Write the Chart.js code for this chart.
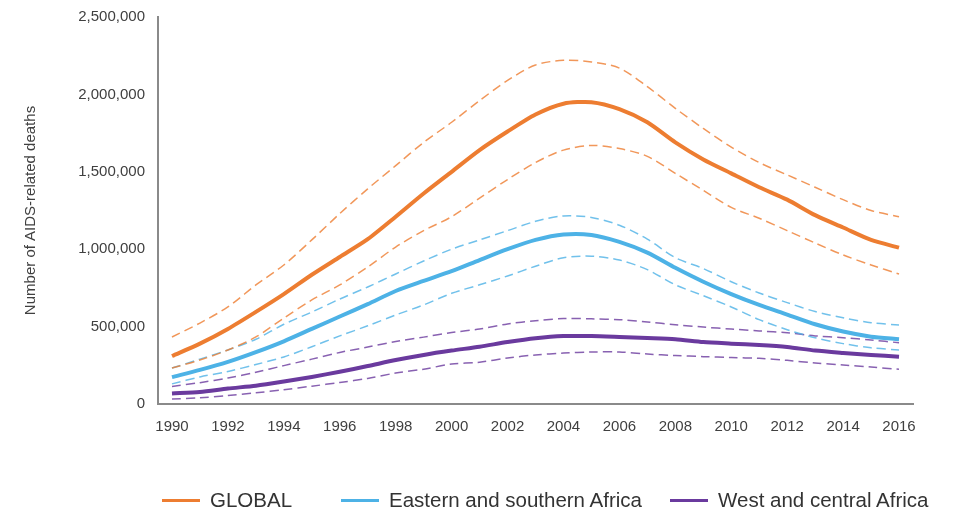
<!DOCTYPE html>
<html>
<head>
<meta charset="utf-8">
<script src="https://cdn.jsdelivr.net/npm/chart.js@4"></script>
<style>
  html, body { margin: 0; padding: 0; background: #fff; }
  #wrap { position: relative; width: 959px; height: 512px; font-family: "Liberation Sans", Arial, sans-serif; }
  #legend { position: absolute; left: 0; top: 488px; width: 959px; height: 24px; font-size: 20.5px; color: #333; }
  .item { position: absolute; top: 0; display: flex; align-items: center; white-space: nowrap; }
  .swatch { width: 38px; height: 3px; margin-right: 10px; }
</style>
</head>
<body>
<div id="wrap">
  <canvas id="deathsChart" width="959" height="512"></canvas>
  <div id="legend"></div>
</div>
<script>
// AIDS-related deaths 1990-2016, central estimate + upper/lower bounds
const years = ['1990', '1991', '1992', '1993', '1994', '1995', '1996', '1997', '1998', '1999', '2000', '2001', '2002', '2003',
    '2004', '2005', '2006', '2007', '2008', '2009', '2010', '2011', '2012', '2013', '2014', '2015', '2016'];

const globalMid = [310000, 390000, 485000, 595000, 710000, 835000, 950000, 1065000, 1210000, 1360000, 1500000, 1640000, 1760000, 1870000,
    1940000, 1950000, 1905000, 1820000, 1690000, 1580000, 1490000, 1400000, 1320000, 1220000, 1140000, 1060000, 1010000];
const globalUp = [433000, 523000, 627000, 769000, 898000, 1060000, 1230000, 1390000, 1540000, 1690000, 1820000, 1960000, 2090000, 2190000,
    2220000, 2210000, 2170000, 2050000, 1910000, 1780000, 1660000, 1560000, 1480000, 1400000, 1320000, 1250000, 1210000];
const globalLow = [232000, 284000, 349000, 433000, 555000, 672000, 769000, 885000, 1014000, 1120000, 1210000, 1330000, 1450000, 1560000,
    1640000, 1670000, 1650000, 1600000, 1490000, 1380000, 1270000, 1200000, 1120000, 1040000, 963000, 898000, 840000];

const esaMid = [174000, 220000, 272000, 335000, 405000, 485000, 565000, 645000, 730000, 795000, 858000, 930000, 1000000, 1060000,
    1095000, 1092000, 1047000, 978000, 880000, 790000, 710000, 640000, 578000, 515000, 468000, 435000, 418000];
const esaUp = [232000, 290000, 349000, 418000, 515000, 594000, 678000, 756000, 840000, 924000, 1000000, 1060000, 1120000, 1180000,
    1215000, 1205000, 1155000, 1065000, 945000, 875000, 790000, 717000, 655000, 597000, 557000, 525000, 510000];
const esaLow = [130000, 175000, 210000, 255000, 304000, 370000, 440000, 505000, 575000, 640000, 715000, 770000, 827000, 890000,
    945000, 955000, 930000, 868000, 770000, 700000, 627000, 545000, 480000, 428000, 390000, 363000, 349000];

const wcaMid = [68000, 78000, 100000, 118000, 145000, 175000, 208000, 245000, 284000, 317000, 345000, 370000, 400000, 425000,
    439000, 439000, 433000, 426000, 418000, 400000, 390000, 381000, 368000, 345000, 330000, 317000, 305000];
const wcaUp = [113000, 138000, 168000, 205000, 248000, 290000, 333000, 368000, 404000, 432000, 462000, 484000, 517000, 538000,
    552000, 550000, 545000, 530000, 512000, 497000, 484000, 472000, 460000, 440000, 428000, 413000, 396000];
const wcaLow = [32000, 40000, 55000, 72000, 92000, 115000, 139000, 165000, 200000, 225000, 258000, 270000, 297000, 317000,
    329000, 336000, 336000, 323000, 313000, 306000, 300000, 295000, 282000, 265000, 252000, 239000, 224000];

const series = [
    { name: 'GLOBAL', color: '#ED7D31', mid: globalMid, up: globalUp, low: globalLow },
    { name: 'Eastern and southern Africa', color: '#4DB2E6', mid: esaMid, up: esaUp, low: esaLow },
    { name: 'West and central Africa', color: '#6A3A9E', mid: wcaMid, up: wcaUp, low: wcaLow }
];
const legendLeft = [162, 341, 670];

const FONT = '"Liberation Sans", Arial, sans-serif';
const datasets = [];
series.forEach(s => {
    datasets.push({ label: s.name, data: s.mid, borderColor: s.color, borderWidth: 4, order: 0, tension: 0.25 });
    [s.up, s.low].forEach(b => datasets.push({
        label: s.name + ' bound', data: b, borderColor: s.color + 'CC', borderWidth: 1.5,
        borderDash: [9, 5], order: 1, tension: 0.3
    }));
});

new Chart(document.getElementById('deathsChart'), {
    type: 'line',
    data: { labels: years, datasets: datasets },
    options: {
        responsive: false,
        animation: false,
        elements: { point: { radius: 0 } },
        layout: { padding: { top: 17, left: 0, right: 46, bottom: 62 } },
        plugins: { legend: { display: false }, tooltip: { enabled: false } },
        scales: {
            x: {
                offset: true,
                grid: { display: false, drawTicks: false },
                border: { display: true, color: '#8a8a8a', width: 2 },
                ticks: {
                    autoSkip: false, maxRotation: 0, padding: 14, color: '#404040',
                    font: { family: FONT, size: 15 },
                    callback: (v, i) => i % 2 === 0 ? years[i] : ''
                }
            },
            y: {
                min: 0, max: 2500000,
                grid: { display: false, drawTicks: false },
                border: { display: true, color: '#8a8a8a', width: 2 },
                afterFit: scale => {
                    scale.width = 158;
                    scale.paddingTop = 0;
                    scale.paddingBottom = 0;
                },
                title: {
                    display: true, text: 'Number of AIDS-related deaths', color: '#404040',
                    font: { family: FONT, size: 15 }, padding: { top: 22, bottom: 0 }
                },
                ticks: {
                    stepSize: 500000, padding: 13, color: '#404040',
                    font: { family: FONT, size: 15 },
                    callback: v => v.toLocaleString('en-US')
                }
            }
        }
    }
});

document.getElementById('legend').innerHTML = series.map((s, i) =>
    `<div class="item" style="left:${legendLeft[i]}px"><span class="swatch" style="background:${s.color}"></span>${s.name}</div>`).join('');
</script>
</body>
</html>
